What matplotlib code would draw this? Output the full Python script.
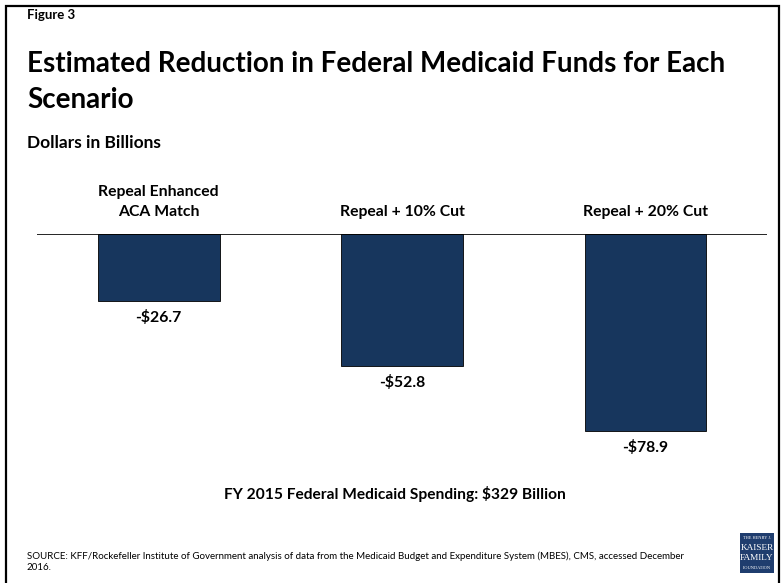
import matplotlib.pyplot as plt
from matplotlib.patches import Rectangle

plt.rcParams['font.family'] = ['Lato', 'DejaVu Sans']

scenarios = ['Repeal Enhanced\nACA Match', 'Repeal + 10% Cut', 'Repeal + 20% Cut']
reductions = [-26.7, -52.8, -78.9]
value_labels = ['-$26.7', '-$52.8', '-$78.9']

W, H = 784, 583
fig = plt.figure(figsize=(W / 100, H / 100), dpi=100)

def fx(px):
    return px / W

def fy(py):
    return 1 - py / H

# frame around the figure
fig.add_artist(Rectangle((fx(6), fy(600)), fx(773), fy(6) - fy(600),
                         transform=fig.transFigure, fill=False,
                         edgecolor='black', linewidth=1.6))

fig.text(fx(27), fy(15), 'Figure 3', fontsize=9.5, fontweight='bold', va='center')
fig.text(fx(27), fy(82), 'Estimated Reduction in Federal Medicaid Funds for Each\nScenario',
         fontsize=20, fontweight='bold', va='center', linespacing=1.47)
fig.text(fx(27), fy(143), 'Dollars in Billions', fontsize=12.5, fontweight='bold', va='center')

ax = fig.add_axes([fx(37), fy(470), fx(767) - fx(37), fy(234) - fy(470)])
x = range(len(scenarios))
ax.bar(x, reductions, width=0.5, color='#17365d', edgecolor='black', linewidth=0.6)
ax.set_xlim(-0.5, 2.5)
ax.set_ylim(-94.5, 0)
ax.axhline(0, color='black', linewidth=1.2)
for spine in ax.spines.values():
    spine.set_visible(False)
ax.set_xticks([])
ax.set_yticks([])

for i, (name, val, lab) in enumerate(zip(scenarios, reductions, value_labels)):
    ax.annotate(name, (i, 0), xytext=(0, 11), textcoords='offset points',
                ha='center', va='bottom', fontsize=11.3, fontweight='bold',
                linespacing=1.55)
    ax.annotate(lab, (i, val), xytext=(0, -6.5), textcoords='offset points',
                ha='center', va='top', fontsize=11.3, fontweight='bold')

fig.text(fx(395), fy(494), 'FY 2015 Federal Medicaid Spending: $329 Billion',
         ha='center', va='center', fontsize=11.2, fontweight='bold')
fig.text(fx(27), fy(562), 'SOURCE: KFF/Rockefeller Institute of Government analysis of data from the '
         'Medicaid Budget and Expenditure System (MBES), CMS, accessed December\n2016.',
         fontsize=7, va='center', linespacing=1.3)

# foundation logo
fig.add_artist(Rectangle((fx(740), fy(573)), fx(34), fy(533) - fy(573),
                         transform=fig.transFigure, facecolor='#1f3d6e', edgecolor='none'))
lx = fx(757)
serif = 'Liberation Serif'
fig.text(lx, fy(538), 'THE HENRY J.', color='white', fontsize=3.2, ha='center', va='center',
         family=serif)
fig.text(lx, fy(548), 'KAISER', color='white', fontsize=6.7, ha='center', va='center',
         family=serif)
fig.text(lx, fy(558), 'FAMILY', color='white', fontsize=6.7, ha='center', va='center',
         family=serif)
fig.text(lx, fy(568), 'FOUNDATION', color='white', fontsize=3.2, ha='center', va='center',
         family=serif)

fig.savefig('out.png', dpi=100)
